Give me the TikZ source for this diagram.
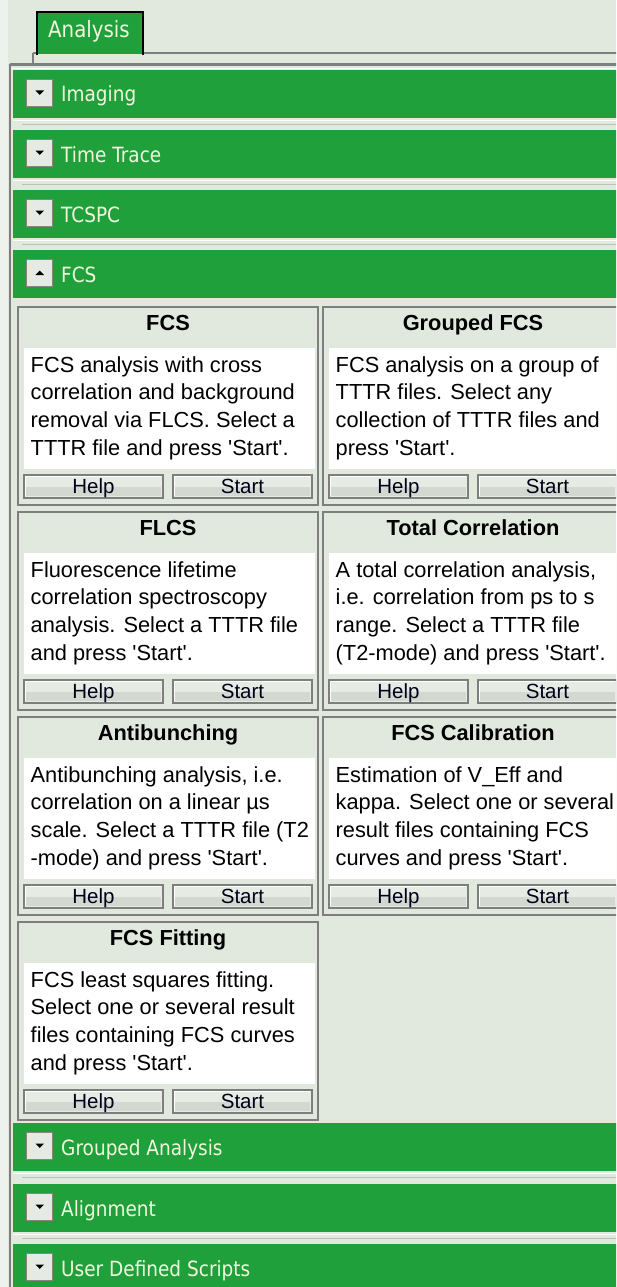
\documentclass[tikz,border=0pt]{standalone}
\usepackage{fontspec}
\setmainfont{Liberation Sans}
\newfontfamily\barfont[FakeStretch=0.88]{DejaVu Sans}
\definecolor{bg}{HTML}{E1E9DF}
\definecolor{lightstrip}{HTML}{EEF2EC}
\definecolor{barg}{HTML}{1FA03B}
\definecolor{bartext}{HTML}{F2F6DE}
\definecolor{frame}{HTML}{7E7E7E}
\definecolor{sepline}{HTML}{B8C2B5}
\definecolor{btnlight}{HTML}{E6EBE4}
\definecolor{btndark}{HTML}{D3D9D1}
\definecolor{iconfill}{HTML}{E6EAE4}
\definecolor{iconedge}{HTML}{858585}
\tikzset{
  bodytext/.style={anchor=base west, inner sep=0pt, font=\fontsize{21.8}{27.7}\selectfont, text=black},
  titletext/.style={anchor=base, inner sep=0pt, font=\fontsize{21.8}{25}\selectfont\bfseries, text=black},
  btntext/.style={anchor=base, inner sep=0pt, font=\fontsize{20.5}{25}\selectfont, text=black!90!blue},
  barlabel/.style={anchor=base west, inner sep=0pt, font=\barfont\fontsize{21}{25}\selectfont, text=bartext},
  tablabel/.style={anchor=base west, inner sep=0pt, font=\barfont\fontsize{22.5}{25}\selectfont, text=bartext},
  panelframe/.style={draw=frame, line width=1.6pt},
  btnframe/.style={draw=frame, line width=1.3pt},
}
\newcommand\uibtn[3]{%
  \fill[btnlight] (#1,#2) rectangle ++(139,23);
  \fill[btndark] (#1+2,#2+12) rectangle ++(135,9);
  \draw[white, line width=1pt] (#1+1.6,#2+21.4) -- (#1+1.6,#2+1.6) -- (#1+137.4,#2+1.6);
  \draw[btnframe] (#1,#2) rectangle ++(139,23);
  \node[btntext] at (#1+69.5,#2+18.5) {#3};
}
\newcommand\uipanel[7]{%
  \draw[panelframe] (#1,#2) rectangle ++(300,198);
  \fill[white] (#1+6,#2+41) rectangle (#1+297,#2+162);
  \node[titletext] at (#1+150,#2+23) {#3};
  \node[bodytext] at (#1+12.5,#2+65) {#4};
  \node[bodytext] at (#1+12.5,#2+92.7) {#5};
  \node[bodytext] at (#1+12.5,#2+120.4) {#6};
  \node[bodytext] at (#1+12.5,#2+148) {#7};
  \uibtn{#1+6}{#2+168}{Help}
  \uibtn{#1+155}{#2+168}{Start}
}
\newcommand\uibar[2]{%
  \fill[barg] (13,#1) rectangle (630,#1+48);
  \fill[iconfill] (26,#1+9.5) rectangle (52.5,#1+36.5);
  \draw[iconedge, line width=1pt] (26,#1+9.5) rectangle (52.5,#1+36.5);
  \node[barlabel] at (61,#1+32) {#2};
}
\newcommand\downtri[1]{\fill[black] (35.5,#1+20.5) -- (44,#1+20.5) -- (39.75,#1+25) -- cycle;}
\newcommand\uptri[1]{\fill[black] (35.5,#1+25) -- (44,#1+25) -- (39.75,#1+20.5) -- cycle;}
\newcommand\uisep[1]{%
  \draw[white, line width=1.2pt] (13,#1+50.5) -- (630,#1+50.5);
  \draw[sepline, line width=1.2pt] (22,#1+54.5) -- (630,#1+54.5);
}
\newcommand\sq{\textquotesingle}
\begin{document}
\begin{tikzpicture}[x=1pt,y=-1pt]
\useasboundingbox (0,0) rectangle (616,1287);
\clip (0,0) rectangle (616,1287);
\fill[bg] (-5,-5) rectangle (630,1295);
\fill[lightstrip] (-5,-5) rectangle (8,1295);
% tab strip lines
\draw[frame, line width=2pt] (33,53) -- (630,53);
\draw[frame, line width=2pt] (33,53) -- (33,64);
\draw[frame, line width=3pt] (10,64.5) -- (630,64.5);
\draw[white, line width=1pt] (12,68.5) -- (630,68.5);
\draw[frame, line width=1.5pt] (10,64) -- (10,1295);
% tab
\fill[barg] (37,12) rectangle (143,54);
\draw[black, line width=2pt] (37,55) -- (37,12) -- (143,12) -- (143,55);
\node[tablabel] (tab) at (48,37.5) {Analysis};
% bars
\uibar{70}{Imaging}\downtri{70}
\uisep{70}
\uibar{130}{Time Trace}\downtri{130}
\uisep{130}
\uibar{190}{TCSPC}\downtri{190}
\uisep{190}
\uibar{250}{FCS}\uptri{250}
% panels
\uipanel{18}{307}{FCS}{FCS analysis with cross}{correlation and background}{removal via FLCS. Select a}{TTTR file and press \sq Start\sq.}
\uipanel{323}{307}{Grouped FCS}{FCS analysis on a group of}{TTTR files. Select any}{collection of TTTR files and}{press \sq Start\sq.}
\uipanel{18}{512}{FLCS}{Fluorescence lifetime}{correlation spectroscopy}{analysis. Select a TTTR file}{and press \sq Start\sq.}
\uipanel{323}{512}{Total Correlation}{A total correlation analysis,}{i.e. correlation from ps to s}{range. Select a TTTR file}{(T2-mode) and press \sq Start\sq.}
\uipanel{18}{717}{Antibunching}{Antibunching analysis, i.e.}{correlation on a linear µs}{scale. Select a TTTR file (T2}{-mode) and press \sq Start\sq.}
\uipanel{323}{717}{FCS Calibration}{Estimation of V\_Eff and}{kappa. Select one or several}{result files containing FCS}{curves and press \sq Start\sq.}
\uipanel{18}{922}{FCS Fitting}{FCS least squares fitting.}{Select one or several result}{files containing FCS curves}{and press \sq Start\sq.}
% lower bars
\uibar{1123}{Grouped Analysis}\downtri{1123}
\uisep{1123}
\uibar{1184}{Alignment}\downtri{1184}
\uisep{1184}
\uibar{1244}{User Defined Scripts}\downtri{1244}
\end{tikzpicture}
\end{document}
